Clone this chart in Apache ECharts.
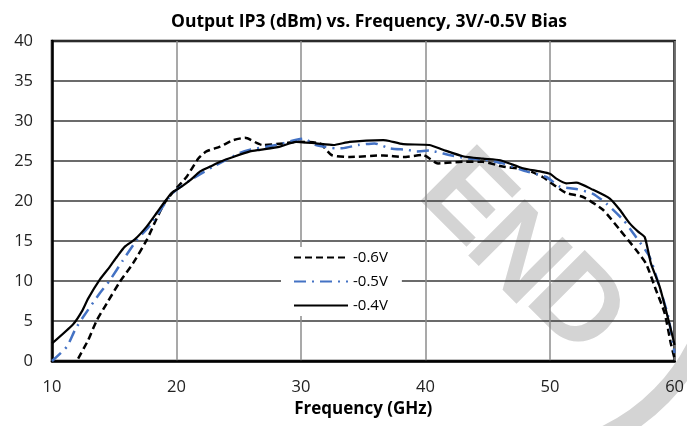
<!DOCTYPE html>
<html style="height: 100%">
<head>
<meta charset="utf-8">
<script src="https://cdn.jsdelivr.net/npm/echarts@6/dist/echarts.min.js"></script>
</head>
<body style="height: 100%; margin: 0; background: #fff">
<div id="container" style="width: 687px; height: 426px"></div>
<script type="text/javascript">
// axis ticks
var xTicks = [10, 20, 30, 40, 50, 60];
var yTicks = [0, 5, 10, 15, 20, 25, 30, 35, 40];

// -0.6V (dashed)
var freq06 = [12.1, 12.9, 13.6, 14.4, 15.45, 16.5, 17.6, 18.4, 19.1, 20.0, 20.8, 21.75, 22.4, 23.5, 24.55, 25.5, 26.9, 28.6, 29.6, 31.5, 32.45, 33.9, 36.6, 38.2, 39.8, 41.0, 43.0, 44.6, 46.2, 48.1, 49.4, 50.5, 51.3, 52.65, 54.25, 55.6, 56.9, 57.7, 58.5, 59.2, 59.7, 60];
var ip3_06 = [0.3, 2.6, 5.1, 7.2, 9.9, 12.2, 15.1, 17.8, 19.9, 21.6, 23.0, 25.3, 26.2, 26.8, 27.6, 27.9, 27.0, 27.2, 27.4, 27.2, 25.75, 25.5, 25.7, 25.5, 25.75, 24.7, 24.9, 24.9, 24.3, 23.9, 23.0, 21.8, 21.0, 20.5, 18.9, 16.4, 13.9, 12.2, 8.9, 6.0, 2.2, 0.3];

// -0.5V (blue dash-dot)
var freq05 = [10, 11.2, 11.85, 12.5, 13.85, 14.65, 15.7, 16.8, 17.9, 18.9, 19.7, 21.1, 22.95, 25.1, 25.9, 28.0, 30.2, 31.2, 32.8, 33.3, 34.6, 35.9, 37.1, 38.5, 39.3, 40.3, 41.9, 43.5, 44.6, 46.2, 48.1, 49.7, 50.8, 52.1, 53.45, 54.5, 55.9, 56.9, 58.0, 58.7, 59.5, 60];
var ip3_05 = [0, 1.8, 3.9, 5.5, 8.5, 10.1, 12.6, 15.1, 17.0, 19.3, 21.0, 22.6, 24.3, 26.0, 26.4, 27.0, 27.8, 27.0, 26.6, 26.6, 27.0, 27.2, 26.6, 26.4, 26.2, 26.3, 25.75, 25.3, 25.2, 24.7, 23.7, 23.0, 21.8, 21.5, 20.9, 19.7, 17.6, 15.5, 13.0, 9.7, 5.5, 1.0];

// -0.4V (solid)
var freq04 = [10, 11.7, 12.4, 12.9, 13.85, 14.65, 15.2, 15.85, 16.65, 17.6, 18.4, 19.1, 19.6, 20.4, 21.1, 21.9, 22.7, 23.5, 24.55, 25.9, 26.7, 28.3, 29.6, 31.2, 32.6, 33.9, 36.6, 37.1, 38.2, 40.3, 41.4, 43.0, 44.6, 46.0, 47.8, 49.2, 50.0, 50.5, 51.3, 52.1, 53.45, 54.8, 55.6, 56.4, 57.05, 57.6, 58.1, 58.8, 59.3, 59.85, 60];
var ip3_04 = [2.2, 4.6, 6.2, 7.8, 10.2, 11.8, 13.0, 14.3, 15.2, 16.8, 18.5, 20.0, 21.0, 21.8, 22.6, 23.7, 24.3, 24.9, 25.5, 26.2, 26.4, 26.8, 27.4, 27.2, 27.0, 27.4, 27.6, 27.5, 27.1, 27.0, 26.4, 25.6, 25.3, 25.1, 24.1, 23.7, 23.4, 22.8, 22.2, 22.3, 21.4, 20.3, 18.9, 17.2, 16.2, 15.5, 12.2, 9.3, 6.4, 3.0, 2.0];

function pairs(xs, ys) {
    var res = [];
    for (var i = 0; i < xs.length; i++) {
        res.push([xs[i], ys[i]]);
    }
    return res;
}

// watermark letter, rotated 45 deg clockwise
function mark(ch, x, y) {
    return {
        type: 'text',
        z: -10,
        x: x, y: y,
        rotation: -Math.PI / 4,
        style: {
            text: ch,
            font: 'bold 116px "Liberation Sans"',
            fill: '#d4d4d4',
            textAlign: 'center',
            textVerticalAlign: 'middle'
        }
    };
}

var chart = echarts.init(document.getElementById('container'));
var font = 'Open Sans';

var option = {
    animation: false,
    backgroundColor: '#fff',
    title: {
        text: 'Output IP3 (dBm) vs. Frequency, 3V/-0.5V Bias',
        left: 364,
        textAlign: 'center',
        top: 8,
        textStyle: { fontFamily: font, fontSize: 17.5, fontWeight: 'bold', color: '#000' }
    },
    graphic: [
        mark('E', 465, 200),
        mark('N', 515, 257),
        mark('D', 575, 308),
        {
            type: 'sector',
            z: -10,
            shape: { cx: 520, cy: 257, r0: 188, r: 208, startAngle: 0.35, endAngle: 1.2 },
            style: { fill: '#d4d4d4' }
        }
    ],
    legend: {
        orient: 'vertical',
        left: 281,
        top: 247,
        itemWidth: 54,
        itemHeight: 14,
        itemGap: 9,
        padding: [3, 14, 3, 12],
        backgroundColor: '#fff',
        itemStyle: { opacity: 0 },
        textStyle: { fontFamily: font, fontSize: 15, color: '#000' },
        data: ['-0.6V', '-0.5V', '-0.4V']
    },
    grid: {
        left: 52, right: 12, top: 41, bottom: 65,
        show: true,
        borderColor: '#000',
        borderWidth: 2.5,
        backgroundColor: 'transparent'
    },
    xAxis: {
        type: 'value',
        min: xTicks[0],
        max: xTicks[xTicks.length - 1],
        interval: 10,
        name: 'Frequency (GHz)',
        nameLocation: 'middle',
        nameGap: 40,
        nameTextStyle: { fontFamily: font, fontSize: 17, fontWeight: 'bold', color: '#000' },
        axisLine: { lineStyle: { color: '#000', width: 2.5 } },
        axisTick: { show: false },
        axisLabel: { fontFamily: font, fontSize: 16.5, color: '#222', margin: 18 },
        splitLine: { show: true, lineStyle: { color: '#8c8c8c', width: 1.5 } }
    },
    yAxis: {
        type: 'value',
        min: yTicks[0],
        max: yTicks[yTicks.length - 1],
        interval: 5,
        axisLine: { show: true, lineStyle: { color: '#000', width: 2.5 } },
        axisTick: { show: false },
        axisLabel: { fontFamily: font, fontSize: 16.5, color: '#222', margin: 19 },
        splitLine: { show: true, lineStyle: { color: '#3a3a3a', width: 1.5 } }
    },
    series: [
        {
            name: '-0.6V',
            type: 'line',
            symbol: 'none',
            smooth: 0.2,
            data: pairs(freq06, ip3_06),
            lineStyle: { color: '#000', width: 2.5, type: [7, 4] },
            itemStyle: { color: '#000' }
        },
        {
            name: '-0.5V',
            type: 'line',
            symbol: 'none',
            smooth: 0.2,
            data: pairs(freq05, ip3_05),
            lineStyle: { color: '#4472C4', width: 2.5, type: [12, 6, 2, 6] },
            itemStyle: { color: '#4472C4' }
        },
        {
            name: '-0.4V',
            type: 'line',
            symbol: 'none',
            smooth: 0.2,
            data: pairs(freq04, ip3_04),
            lineStyle: { color: '#000', width: 2.2, type: 'solid' },
            itemStyle: { color: '#000' }
        }
    ]
};
chart.setOption(option);
</script>
</body>
</html>
